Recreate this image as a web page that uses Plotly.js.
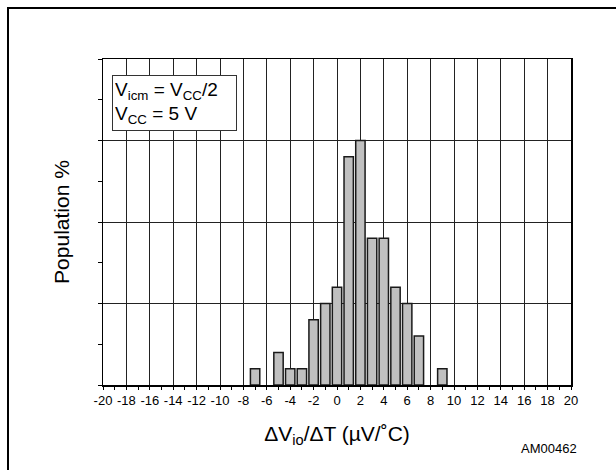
<!DOCTYPE html>
<html>
<head>
<meta charset="utf-8">
<script src="https://cdn.plot.ly/plotly-3.0.1.min.js"></script>
<style>
html,body{margin:0;padding:0;background:#fff;}
#wrap{position:relative;width:616px;height:470px;overflow:hidden;}
#chart{width:616px;height:470px;}
#frame{position:absolute;left:7px;top:7px;width:800px;height:800px;border-left:2.5px solid #000;border-top:2.5px solid #000;pointer-events:none;}
</style>
</head>
<body>
<div id="wrap"><div id="chart"></div><div id="frame"></div></div>
<script>
// Data
const driftBins = [-7, -5, -4, -3, -2, -1, 0, 1, 2, 3, 4, 5, 6, 7, 9];
const populationPct = [1, 2, 1, 1, 4, 5, 6, 14, 15, 9, 9, 6, 5, 3, 1];
const xTickVals = [-20, -18, -16, -14, -12, -10, -8, -6, -4, -2, 0, 2, 4, 6, 8, 10, 12, 14, 16, 18, 20];
const xTickText = ['-20', '-18', '-16', '-14', '-12', '-10', '-8', '-6', '-4', '-2', '0', '2', '4', '6', '8', '10', '12', '14', '16', '18', '20'];

const FONT = 'Liberation Sans, Arial, sans-serif';

const trace = {
  type: 'bar',
  x: driftBins,
  y: populationPct,
  width: 0.8,
  marker: {color: '#c0c0c0', line: {color: '#1a1a1a', width: 1.5}},
  hoverinfo: 'skip'
};

const layout = {
  width: 616, height: 470,
  margin: {l: 103, r: 45, t: 59, b: 85},
  paper_bgcolor: '#fff', plot_bgcolor: '#fff',
  showlegend: false,
  font: {family: FONT, color: '#000'},
  xaxis: {
    range: [-20, 20],
    tickmode: 'array', tickvals: xTickVals, ticktext: xTickText,
    tickfont: {size: 13, family: FONT},
    ticks: 'outside', ticklen: 3, tickcolor: '#000', tickwidth: 1,
    minor: {dtick: 1, ticks: 'outside', ticklen: 3, tickcolor: '#000', showgrid: false},
    showgrid: true, gridcolor: '#222', gridwidth: 1,
    showline: true, linecolor: '#000', linewidth: 1.5, mirror: true,
    zeroline: false,
    title: {text: 'ΔV<sub>io</sub>/ΔT (µV/˚C)', font: {size: 21, family: FONT}, standoff: 19}
  },
  yaxis: {
    range: [0, 20],
    dtick: 5, showticklabels: false,
    ticks: 'outside', ticklen: 4, tickcolor: '#000',
    minor: {dtick: 2.5, ticks: 'outside', ticklen: 4, tickcolor: '#000', showgrid: false},
    showgrid: true, gridcolor: '#222', gridwidth: 1,
    showline: true, linecolor: '#000', linewidth: 1.5, mirror: true,
    zeroline: false,
    title: {text: 'Population %', font: {size: 21, family: FONT}, standoff: 22}
  },
  annotations: [
    {
      xref: 'paper', yref: 'paper', x: 0.019, y: 0.951,
      xanchor: 'left', yanchor: 'top', align: 'left',
      text: 'V<sub>icm</sub> = V<sub>CC</sub>/2<br>V<sub>CC</sub> = 5 V',
      font: {size: 19, family: FONT, color: '#000'},
      showarrow: false, bgcolor: '#fff', bordercolor: '#333', borderwidth: 1, borderpad: 2,
      width: 119, height: 50
    },
    {
      xref: 'paper', yref: 'paper', x: 1.017, y: -0.196,
      xanchor: 'right', yanchor: 'middle',
      text: 'AM00462', font: {size: 13, family: FONT, color: '#000'},
      showarrow: false
    }
  ]
};

Plotly.newPlot('chart', [trace], layout, {displayModeBar: false, staticPlot: true});
</script>
</body>
</html>
